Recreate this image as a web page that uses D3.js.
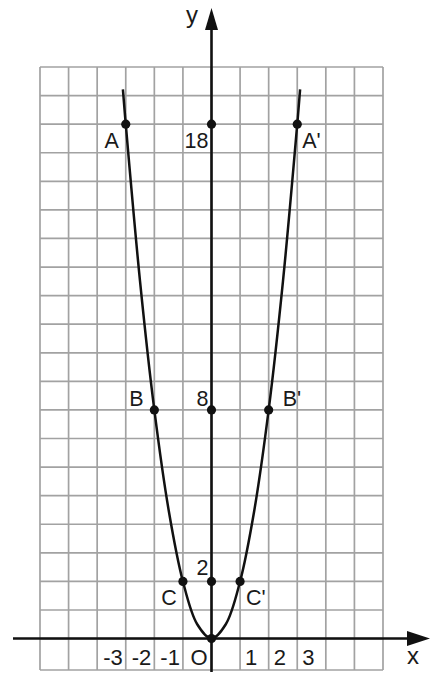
<!DOCTYPE html>
<html>
<head>
<meta charset="utf-8">
<script src="https://cdn.jsdelivr.net/npm/d3@7"></script>
<style>
  html, body { margin: 0; padding: 0; background: #fff; }
  svg { display: block; }
  text { font-family: "Liberation Sans", Arial, sans-serif; fill: #1a1a1a; }
</style>
</head>
<body>
<svg id="chart" width="430" height="675"></svg>
<script>
// ---- data ----
const curveX = [-3.1, -3, -2.5, -2, -1.5, -1, -0.5, 0, 0.5, 1, 1.5, 2, 2.5, 3, 3.1];
const curveY = [19.22, 18, 12.5, 8, 4.5, 2, 0.5, 0, 0.5, 2, 4.5, 8, 12.5, 18, 19.22];
const pointNames = ["A", "B", "C", "O", "C'", "B'", "A'"];
const pointX = [-3, -2, -1, 0, 1, 2, 3];
const pointY = [18, 8, 2, 0, 2, 8, 18];
const yMarks = [18, 8, 2];
const yMarkLabels = ["18", "8", "2"];
const xTickValues = [-3, -2, -1, 0, 1, 2, 3];
const xTickLabels = ["-3", "-2", "-1", "O", "1", "2", "3"];
const gridXRange = [-6, 6];
const gridYRange = [-1.1, 20];

// ---- scales ----
const x = d3.scaleLinear().domain(gridXRange).range([40, 383]);
const y = d3.scaleLinear().domain(gridYRange).range([670, 67]);
const svg = d3.select("#chart");

// ---- grid ----
const grid = svg.append("g").attr("stroke", "#a2a2a2").attr("stroke-width", 1.7).attr("fill", "none");
grid.selectAll("line.v").data(d3.range(gridXRange[0], gridXRange[1] + 1)).join("line")
  .attr("x1", d => x(d)).attr("x2", d => x(d))
  .attr("y1", y(gridYRange[0])).attr("y2", y(gridYRange[1]));
grid.selectAll("line.h").data(d3.range(0, gridYRange[1] + 1)).join("line")
  .attr("x1", x(gridXRange[0])).attr("x2", x(gridXRange[1]))
  .attr("y1", d => y(d)).attr("y2", d => y(d));
grid.append("line")
  .attr("x1", x(gridXRange[0])).attr("x2", x(gridXRange[1]))
  .attr("y1", y(gridYRange[0])).attr("y2", y(gridYRange[0]));

// ---- axes ----
const axisCol = "#111";
svg.append("line").attr("x1", 13).attr("x2", 412).attr("y1", y(0)).attr("y2", y(0))
  .attr("stroke", axisCol).attr("stroke-width", 2.6);
svg.append("path").attr("d", `M430,${y(0)} L407,${y(0) - 7.5} L407,${y(0) + 7.5} Z`).attr("fill", axisCol);
svg.append("line").attr("x1", x(0)).attr("x2", x(0)).attr("y1", 672).attr("y2", 26)
  .attr("stroke", axisCol).attr("stroke-width", 2.6);
svg.append("path").attr("d", `M${x(0)},8 L${x(0) - 6.5},30 L${x(0) + 6.5},30 Z`).attr("fill", axisCol);

svg.append("text").attr("x", 192).attr("y", 23).attr("text-anchor", "middle")
  .attr("font-size", 24).text("y");
svg.append("text").attr("x", 413).attr("y", 664).attr("text-anchor", "middle")
  .attr("font-size", 24).text("x");

// ---- curve ----
const curveData = curveX.map((v, i) => [v, curveY[i]]);
svg.append("path").datum(curveData)
  .attr("d", d3.line().x(d => x(d[0])).y(d => y(d[1])).curve(d3.curveCatmullRom.alpha(0.5)))
  .attr("fill", "none").attr("stroke", "#111").attr("stroke-width", 2.5);

// ---- points ----
const dots = pointX.map((v, i) => [v, pointY[i]]).concat(yMarks.map(v => [0, v]));
svg.selectAll("circle.pt").data(dots).join("circle")
  .attr("cx", d => x(d[0])).attr("cy", d => y(d[1])).attr("r", 4.6).attr("fill", "#111");

// ---- point labels ----
const labelOffsets = {
  "A":  { dx: -14, dy: 24, anchor: "middle" },
  "B":  { dx: -18, dy: -4, anchor: "middle" },
  "C":  { dx: -14, dy: 24, anchor: "middle" },
  "A'": { dx: 5,   dy: 24, anchor: "start" },
  "B'": { dx: 14,  dy: -4, anchor: "start" },
  "C'": { dx: 6,   dy: 24, anchor: "start" }
};
pointNames.forEach((name, i) => {
  const o = labelOffsets[name];
  if (!o) return;
  svg.append("text").attr("x", x(pointX[i]) + o.dx).attr("y", y(pointY[i]) + o.dy)
    .attr("text-anchor", o.anchor).attr("font-size", 21.5).text(name);
});
const markDy = [24, -4, -6];
yMarks.forEach((v, i) => {
  svg.append("text").attr("x", x(0) - 3).attr("y", y(v) + markDy[i])
    .attr("text-anchor", "end").attr("font-size", 21.5).text(yMarkLabels[i]);
});

// ---- x tick labels ----
xTickValues.forEach((v, i) => {
  const neg = v <= 0;
  svg.append("text")
    .attr("x", x(v) + (neg ? (v === 0 ? -4 : -3) : 5))
    .attr("y", 665)
    .attr("text-anchor", neg ? "end" : "start")
    .attr("font-size", 22).text(xTickLabels[i]);
});
</script>
</body>
</html>
